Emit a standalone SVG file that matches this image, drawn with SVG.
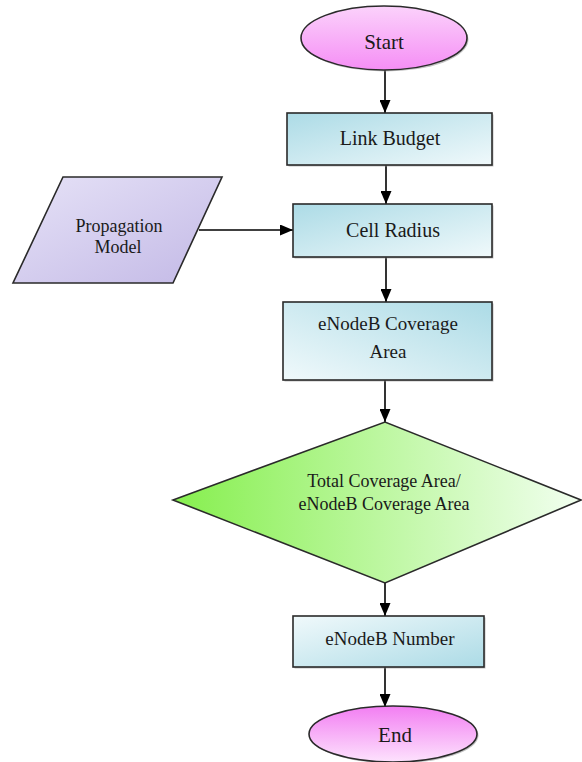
<svg xmlns="http://www.w3.org/2000/svg" width="582" height="762" viewBox="0 0 582 762">
<style>
text{font-family:"Liberation Serif","Times New Roman",serif;fill:#1a1a1a;text-anchor:middle;font-size:20px}
.big{font-size:21px}
.mid{font-size:19px}
.dec{font-size:18px}
.shape{stroke:#2a2a2a;stroke-width:1.6}
.shadow{fill:#9a9a9a;opacity:0.6}
.conn{stroke:#000;stroke-width:1.6;fill:none}
</style>
<defs>
<linearGradient id="gBoxA" x1="0" y1="0" x2="1" y2="1"><stop offset="0" stop-color="#acdbe6"/><stop offset="1" stop-color="#f0f9fb"/></linearGradient>
<linearGradient id="gBoxB" x1="1" y1="0" x2="0" y2="1"><stop offset="0" stop-color="#acdbe6"/><stop offset="1" stop-color="#f0f9fb"/></linearGradient>
<linearGradient id="gBoxC" x1="0" y1="0" x2="1" y2="1"><stop offset="0" stop-color="#f0f9fb"/><stop offset="1" stop-color="#acdbe6"/></linearGradient>
<linearGradient id="gPink" x1="0" y1="0" x2="0" y2="1"><stop offset="0" stop-color="#f27ef2"/><stop offset="1" stop-color="#fde2fd"/></linearGradient>
<linearGradient id="gPinkS" x1="0" y1="0" x2="0" y2="1"><stop offset="0" stop-color="#fbd2fb"/><stop offset="1" stop-color="#f58ef5"/></linearGradient>
<linearGradient id="gLav" x1="0" y1="0" x2="1" y2="1"><stop offset="0" stop-color="#e6e2f7"/><stop offset="1" stop-color="#c3b9e6"/></linearGradient>
<linearGradient id="gGreen" x1="0" y1="0" x2="1" y2="0"><stop offset="0" stop-color="#86ef4e"/><stop offset="1" stop-color="#f2fff0"/></linearGradient>
<marker id="arrow" markerUnits="userSpaceOnUse" viewBox="0 0 13 11" markerWidth="13" markerHeight="11" refX="13" refY="5.5" orient="auto"><path d="M0,0 L13,5.5 L0,11 z" fill="#000"/></marker>
</defs>

<g id="connectors">
<line class="conn" x1="385" y1="70" x2="385" y2="113" marker-end="url(#arrow)"/>
<line class="conn" x1="386" y1="165" x2="386" y2="204" marker-end="url(#arrow)"/>
<line class="conn" x1="199" y1="230" x2="293" y2="230" marker-end="url(#arrow)"/>
<line class="conn" x1="386" y1="257" x2="386" y2="302" marker-end="url(#arrow)"/>
<line class="conn" x1="385" y1="380" x2="385" y2="422" marker-end="url(#arrow)"/>
<line class="conn" x1="385" y1="583" x2="385" y2="616" marker-end="url(#arrow)"/>
<line class="conn" x1="385" y1="667" x2="385" y2="707" marker-end="url(#arrow)"/>
</g>

<g id="start">
<ellipse class="shadow" cx="385.5" cy="39.5" rx="83" ry="32"/>
<ellipse class="shape" cx="384" cy="38" rx="83" ry="32" fill="url(#gPinkS)"/>
<text class="big" x="384" y="49">Start</text>
</g>

<g id="link-budget">
<rect class="shadow" x="288.5" y="114.5" width="205" height="52"/>
<rect class="shape" x="287" y="113" width="205" height="52" fill="url(#gBoxA)"/>
<text x="390" y="145">Link Budget</text>
</g>

<g id="propagation-model">
<polygon class="shape" points="63,177 222,177 173,283 13,283" fill="url(#gLav)"/>
<text class="dec" x="119" y="232">Propagation</text>
<text class="dec" x="118" y="253">Model</text>
</g>

<g id="cell-radius">
<rect class="shadow" x="294.5" y="205.5" width="199" height="53"/>
<rect class="shape" x="293" y="204" width="199" height="53" fill="url(#gBoxA)"/>
<text x="393" y="237">Cell Radius</text>
</g>

<g id="enodeb-coverage">
<rect class="shadow" x="284.5" y="303.5" width="209" height="78"/>
<rect class="shape" x="283" y="302" width="209" height="78" fill="url(#gBoxB)"/>
<text class="mid" x="388" y="330">eNodeB Coverage</text>
<text class="mid" x="388" y="358">Area</text>
</g>

<g id="decision">
<polygon class="shape" points="173,500 385,422 581,500 385,583" fill="url(#gGreen)"/>
<text class="dec" x="384" y="487">Total Coverage Area/</text>
<text class="dec" x="384" y="510">eNodeB Coverage Area</text>
</g>

<g id="enodeb-number">
<rect class="shadow" x="294.5" y="617.5" width="191" height="51"/>
<rect class="shape" x="293" y="616" width="191" height="51" fill="url(#gBoxC)"/>
<text class="mid" x="390" y="645">eNodeB Number</text>
</g>

<g id="end">
<ellipse class="shadow" cx="394.5" cy="735.5" rx="84" ry="28"/>
<ellipse class="shape" cx="393" cy="734" rx="84" ry="28" fill="url(#gPink)"/>
<text class="big" x="395" y="742">End</text>
</g>
</svg>
